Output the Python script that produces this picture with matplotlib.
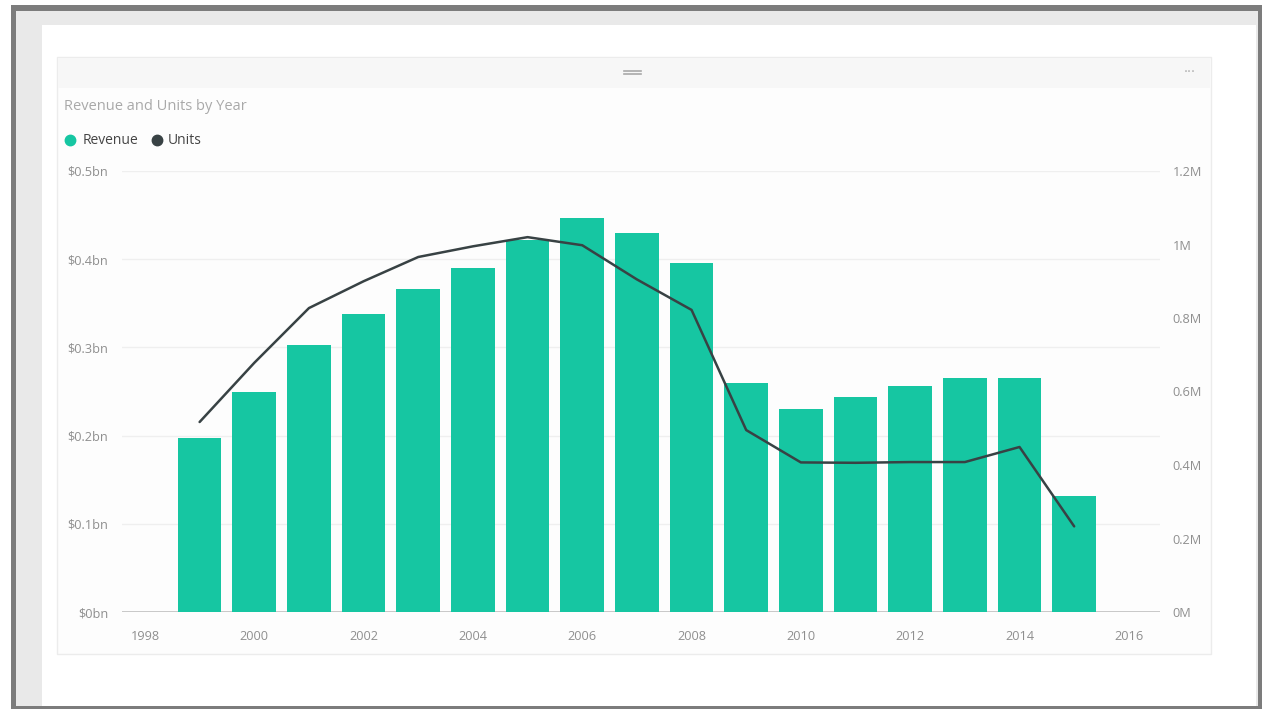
import matplotlib
matplotlib.use("Agg")
import matplotlib.pyplot as plt
from matplotlib.patches import Rectangle
from matplotlib.lines import Line2D
from matplotlib.ticker import FuncFormatter, FixedLocator

# ---- data ----
years = [1999, 2000, 2001, 2002, 2003, 2004, 2005, 2006, 2007, 2008,
         2009, 2010, 2011, 2012, 2013, 2014, 2015]
revenue_bn = [0.197, 0.250, 0.303, 0.338, 0.366, 0.390, 0.422, 0.447, 0.430, 0.396,
              0.260, 0.230, 0.244, 0.256, 0.265, 0.265, 0.131]
units_m = [0.517, 0.678, 0.827, 0.900, 0.966, 0.995, 1.020, 0.998, 0.905, 0.822,
           0.495, 0.407, 0.406, 0.408, 0.408, 0.449, 0.233]
x_ticks = [1998, 2000, 2002, 2004, 2006, 2008, 2010, 2012, 2014, 2016]
rev_ticks = [0, 0.1, 0.2, 0.3, 0.4, 0.5]
unit_ticks = [0, 0.2, 0.4, 0.6, 0.8, 1.0, 1.2]

title = "Revenue and Units by Year"
series_names = ["Revenue", "Units"]

BAR = "#16c6a2"
LINE = "#384244"
GRID = "#efefef"
TICK = "#8f8f8f"
FONT = ["Open Sans", "DejaVu Sans"]
TICK_SIZE = 9.2

W, H = 1268, 709
fig = plt.figure(figsize=(W / 100, H / 100), dpi=100)
fig.patch.set_facecolor("white")


def px(x0, y0, w, h):
    """Pixel box (top-left origin) to figure fraction rectangle."""
    return (x0 / W, 1 - (y0 + h) / H, w / W, h / H)


def frect(x0, y0, w, h, **kw):
    l, b, ww, hh = px(x0, y0, w, h)
    fig.add_artist(Rectangle((l, b), ww, hh, transform=fig.transFigure, **kw))


# window frame around the report canvas
frect(11, 5, 1251, 704, facecolor="#7c7c7c", edgecolor="none", zorder=0)
frect(16, 11, 1242, 695, facecolor="#e9e9e9", edgecolor="none", zorder=0)
frect(42, 25, 1214, 681, facecolor="white", edgecolor="none", zorder=0)

# visual container
frect(57, 57, 1154, 597, facecolor="#fdfdfd", edgecolor="#ececec", linewidth=1.0, zorder=0)
frect(58, 58, 1152, 30, facecolor="#f7f7f7", edgecolor="none", zorder=0)

# drag handle and more-options dots in the header
for dy in (70.5, 74):
    fig.add_artist(Line2D([624 / W, 641 / W], [1 - dy / H, 1 - dy / H],
                          transform=fig.transFigure, color="#a8a8a8", linewidth=1.2))
fig.text(1190 / W, 1 - 73 / H, "···", ha="center", va="center",
         color="#b0b0b0", fontsize=11, family=FONT)

# title and legend
fig.text(64 / W, 1 - 106 / H, title, ha="left", va="center",
         color="#a9a9a9", fontsize=10.5, family=FONT)
leg_items = [(70, 83, BAR, series_names[0]), (157, 168, LINE, series_names[1])]
for cx, tx, col, name in leg_items:
    fig.add_artist(Line2D([cx / W], [1 - 140 / H], marker="o", markersize=7.5,
                          color=col, transform=fig.transFigure, linestyle="none"))
    fig.text(tx / W, 1 - 140 / H, name, ha="left", va="center",
             color="#454545", fontsize=10, family=FONT)

# plot area
ax_l, ax_r, ax_top, ax_bot = 122, 1160, 171, 612
ax = fig.add_axes(px(ax_l, ax_top, ax_r - ax_l, ax_bot - ax_top))
ax.set_facecolor("none")
ax.set_xlim(1997.58, 2016.57)
ax.set_ylim(0, 0.5)

ax.bar(years, revenue_bn, width=0.8, color=BAR, zorder=2)
ax.axhline(0, color="#c4c4c4", linewidth=1.3, zorder=1)

ax.yaxis.set_major_locator(FixedLocator(rev_ticks))
ax.yaxis.set_major_formatter(FuncFormatter(lambda v, _: f"${v:g}bn"))
ax.xaxis.set_major_locator(FixedLocator(x_ticks))
ax.xaxis.set_major_formatter(FuncFormatter(lambda v, _: f"{int(v)}"))
ax.grid(axis="y", color=GRID, linewidth=1.0, zorder=0)
ax.set_axisbelow(True)
for s in ax.spines.values():
    s.set_visible(False)
ax.tick_params(axis="both", length=0, colors=TICK, labelsize=TICK_SIZE)
ax.tick_params(axis="y", pad=10)
ax.tick_params(axis="x", pad=13)
for lab in ax.get_xticklabels() + ax.get_yticklabels():
    lab.set_family(FONT)

ax2 = ax.twinx()
ax2.set_ylim(0, 1.2)
ax2.plot(years, units_m, color=LINE, linewidth=1.8, zorder=3,
         solid_joinstyle="round", solid_capstyle="round")
ax2.yaxis.set_major_locator(FixedLocator(unit_ticks))
ax2.yaxis.set_major_formatter(FuncFormatter(lambda v, _: f"{v:g}M"))
for s in ax2.spines.values():
    s.set_visible(False)
ax2.tick_params(axis="y", length=0, colors=TICK, labelsize=TICK_SIZE, pad=9)
for lab in ax2.get_yticklabels():
    lab.set_family(FONT)

fig.savefig("out.png", dpi=100, facecolor=fig.get_facecolor())
